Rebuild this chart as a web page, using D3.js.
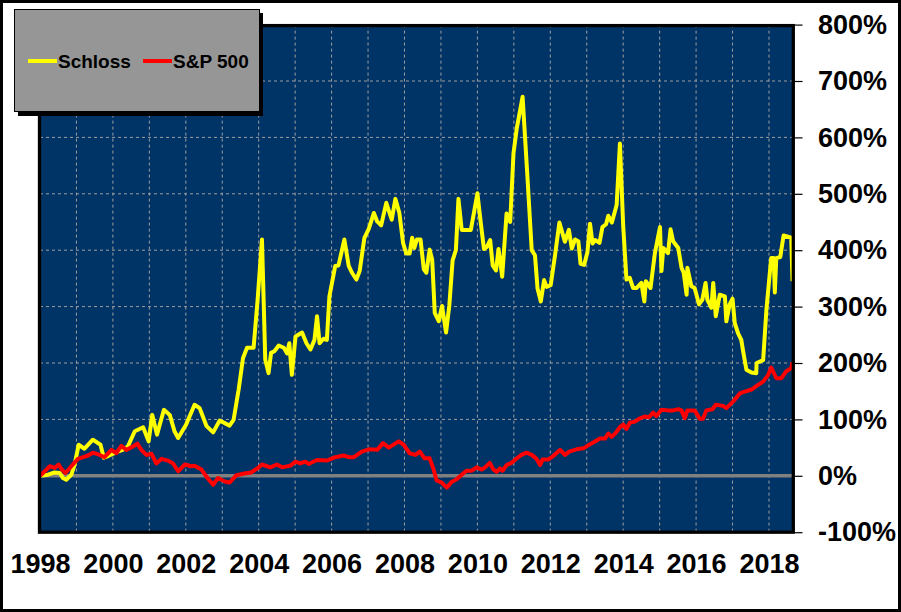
<!DOCTYPE html>
<html>
<head>
<meta charset="utf-8">
<script src="https://cdn.jsdelivr.net/npm/d3@7"></script>
<style>
  html, body { margin: 0; padding: 0; background: #fff; }
  svg { display: block; font-family: "Liberation Sans", Arial, sans-serif; }
</style>
</head>
<body>
<svg id="chart" width="901" height="612"></svg>
<script>
// ---- data ----
const seriesNames = ["Schloss", "S&P 500"];
const yTickValues = [-100, 0, 100, 200, 300, 400, 500, 600, 700, 800];
const xTickYears = [1998, 2000, 2002, 2004, 2006, 2008, 2010, 2012, 2014, 2016, 2018];

const schlossDates = [
  1998.00, 1998.22, 1998.40, 1998.54, 1998.63, 1998.72, 1998.86, 1998.95, 1999.06, 1999.22,
  1999.45, 1999.66, 1999.75, 1999.87, 2000.10, 2000.30, 2000.41, 2000.60, 2000.83, 2000.98,
  2001.08, 2001.21, 2001.40, 2001.56, 2001.69, 2001.79, 2002.01, 2002.24, 2002.38, 2002.57,
  2002.75, 2002.93, 2003.20, 2003.31, 2003.45, 2003.57, 2003.68, 2003.86, 2003.97, 2004.09,
  2004.18, 2004.27, 2004.34, 2004.43, 2004.55, 2004.69, 2004.78, 2004.84, 2004.91, 2005.01,
  2005.19, 2005.31, 2005.42, 2005.53, 2005.60, 2005.67, 2005.78, 2005.87, 2005.94, 2006.10,
  2006.19, 2006.35, 2006.47, 2006.56, 2006.68, 2006.77, 2006.90, 2007.02, 2007.16, 2007.25,
  2007.36, 2007.50, 2007.65, 2007.75, 2007.86, 2007.96, 2008.05, 2008.14, 2008.21, 2008.27,
  2008.34, 2008.44, 2008.53, 2008.60, 2008.69, 2008.76, 2008.83, 2008.94, 2009.03, 2009.14,
  2009.23, 2009.32, 2009.41, 2009.48, 2009.57, 2009.82, 2009.91, 2010.00, 2010.09, 2010.18,
  2010.26, 2010.35, 2010.42, 2010.51, 2010.58, 2010.68, 2010.80, 2010.90, 2010.99, 2011.08,
  2011.24, 2011.37, 2011.49, 2011.58, 2011.65, 2011.74, 2011.83, 2011.90, 2012.01, 2012.13,
  2012.25, 2012.40, 2012.51, 2012.59, 2012.68, 2012.77, 2012.83, 2012.93, 2013.02, 2013.09,
  2013.16, 2013.23, 2013.35, 2013.43, 2013.53, 2013.59, 2013.69, 2013.82, 2013.91, 2014.00,
  2014.09, 2014.18, 2014.27, 2014.37, 2014.50, 2014.58, 2014.62, 2014.75, 2014.87, 2015.01,
  2015.05, 2015.10, 2015.23, 2015.30, 2015.37, 2015.51, 2015.60, 2015.66, 2015.74, 2015.76,
  2015.87, 2015.96, 2016.08, 2016.17, 2016.26, 2016.31, 2016.42, 2016.47, 2016.54, 2016.65,
  2016.79, 2016.83, 2016.92, 2017.00, 2017.06, 2017.15, 2017.24, 2017.29, 2017.38, 2017.52,
  2017.65, 2017.66, 2017.84, 2017.93, 2018.06, 2018.13, 2018.16, 2018.20, 2018.31, 2018.40,
  2018.61, 2018.645
];
const schlossValues = [
  0, 2, 6, 5, -4, -7, 2, 20, 55, 48,
  64, 55, 32, 35, 42, 47, 52, 79, 86, 61,
  108, 73, 117, 108, 79, 67, 91, 126, 120, 88,
  77, 98, 89, 99, 153, 209, 227, 227, 312, 419,
  206, 182, 218, 221, 231, 227, 217, 235, 179, 247,
  254, 235, 224, 241, 283, 235, 243, 241, 318, 372,
  373, 419, 372, 360, 348, 363, 422, 438, 466, 451,
  444, 484, 454, 491, 466, 413, 394, 394, 422, 404,
  419, 419, 366, 360, 401, 383, 289, 274, 301, 254,
  302, 382, 400, 491, 436, 436, 468, 501, 450, 402,
  406, 418, 373, 364, 402, 353, 465, 450, 572, 616,
  672, 533, 400, 391, 332, 309, 347, 335, 338, 391,
  449, 415, 436, 403, 419, 416, 376, 374, 397, 447,
  412, 418, 413, 441, 446, 461, 449, 480, 589, 443,
  348, 351, 333, 333, 342, 309, 345, 333, 395, 441,
  363, 404, 395, 437, 416, 404, 369, 360, 321, 369,
  336, 333, 304, 312, 342, 312, 298, 342, 283, 321,
  318, 274, 304, 314, 271, 253, 241, 221, 188, 183,
  182, 200, 205, 295, 386, 386, 325, 386, 388, 426,
  422, 345
];

const spDates = [
  1998.00, 1998.13, 1998.27, 1998.40, 1998.51, 1998.60, 1998.70, 1998.86, 1999.04, 1999.23,
  1999.32, 1999.45, 1999.64, 1999.77, 1999.96, 2000.09, 2000.23, 2000.37, 2000.55, 2000.67,
  2000.78, 2000.92, 2001.06, 2001.19, 2001.33, 2001.51, 2001.65, 2001.79, 2001.97, 2002.15,
  2002.24, 2002.43, 2002.56, 2002.75, 2002.88, 2003.07, 2003.20, 2003.39, 2003.61, 2003.80,
  2003.98, 2004.09, 2004.32, 2004.50, 2004.64, 2004.87, 2005.01, 2005.14, 2005.28, 2005.37,
  2005.60, 2005.87, 2006.10, 2006.33, 2006.47, 2006.61, 2006.83, 2007.02, 2007.25, 2007.41,
  2007.57, 2007.84, 2007.98, 2008.14, 2008.30, 2008.42, 2008.55, 2008.69, 2008.79, 2008.88,
  2009.02, 2009.16, 2009.29, 2009.43, 2009.57, 2009.70, 2009.84, 2009.98, 2010.12, 2010.21,
  2010.34, 2010.44, 2010.53, 2010.62, 2010.69, 2010.80, 2010.94, 2011.08, 2011.21, 2011.35,
  2011.49, 2011.61, 2011.72, 2011.79, 2011.95, 2012.08, 2012.27, 2012.40, 2012.52, 2012.72,
  2012.91, 2013.04, 2013.18, 2013.36, 2013.50, 2013.59, 2013.68, 2013.78, 2013.92, 2014.00,
  2014.09, 2014.18, 2014.32, 2014.46, 2014.59, 2014.71, 2014.82, 2014.91, 2015.05, 2015.23,
  2015.37, 2015.51, 2015.60, 2015.69, 2015.76, 2015.96, 2016.10, 2016.19, 2016.28, 2016.45,
  2016.54, 2016.74, 2016.83, 2017.02, 2017.20, 2017.38, 2017.52, 2017.65, 2017.84, 2017.97,
  2018.06, 2018.20, 2018.34, 2018.47, 2018.61, 2018.645
];
const spValues = [
  0, 8, 17, 14, 20, 11, 5, 17, 30, 34,
  36, 41, 37, 33, 46, 40, 53, 46, 52, 57,
  46, 37, 39, 22, 30, 27, 22, 8, 20, 17,
  18, 11, -1, -16, -4, -10, -12, 1, 4, 6,
  14, 20, 15, 20, 15, 18, 25, 22, 25, 21,
  28, 27, 33, 36, 33, 33, 43, 47, 46, 58,
  50, 61, 55, 40, 37, 43, 31, 31, 13, -8,
  -12, -21, -11, -6, 2, 9, 9, 15, 11, 15,
  23, 11, 7, 13, 9, 19, 23, 31, 37, 41,
  37, 31, 19, 29, 29, 35, 46, 37, 43, 47,
  49, 54, 59, 66, 66, 75, 69, 75, 87, 91,
  83, 94, 96, 102, 105, 104, 112, 106, 117, 116,
  116, 118, 116, 102, 116, 116, 101, 101, 116, 118,
  126, 124, 120, 132, 146, 150, 153, 159, 167, 178,
  192, 173, 173, 185, 191, 201
];

// ---- layout ----
const svg = d3.select("#chart");
const W = 901, H = 612;
const plot = { left: 40, right: 792.5, top: 24.6, bottom: 532.2 };

const x = d3.scaleLinear().domain([1998, 2018.645]).range([plot.left, plot.right]);
const y = d3.scaleLinear().domain([-100, 800]).range([plot.bottom, plot.top]);

// outer frame
svg.append("rect").attr("x", 0).attr("y", 0).attr("width", W).attr("height", H).attr("fill", "#fff");
svg.append("rect").attr("x", 1.5).attr("y", 1.5).attr("width", W - 3).attr("height", H - 3)
  .attr("fill", "none").attr("stroke", "#000").attr("stroke-width", 3);

// plot background
svg.append("rect").attr("x", plot.left).attr("y", plot.top)
  .attr("width", plot.right - plot.left).attr("height", plot.bottom - plot.top)
  .attr("fill", "#003366");

const clip = svg.append("defs").append("clipPath").attr("id", "plotclip");
clip.append("rect").attr("x", plot.left).attr("y", plot.top)
  .attr("width", plot.right - plot.left).attr("height", plot.bottom - plot.top);

// grid
const grid = svg.append("g");
const yearGrid = d3.range(1999, 2019);
grid.selectAll("line.vg").data(yearGrid).enter().append("line")
  .attr("x1", d => x(d)).attr("x2", d => x(d))
  .attr("y1", plot.top).attr("y2", plot.bottom)
  .attr("stroke", "#a0a0a0").attr("stroke-width", 1).attr("stroke-dasharray", "3,3");
grid.selectAll("line.hg").data(yTickValues.filter(v => v > -100 && v < 800 && v !== 0)).enter().append("line")
  .attr("x1", plot.left).attr("x2", plot.right)
  .attr("y1", d => y(d)).attr("y2", d => y(d))
  .attr("stroke", "#a0a0a0").attr("stroke-width", 1).attr("stroke-dasharray", "3,3");

// zero line
svg.append("line").attr("x1", plot.left).attr("x2", plot.right)
  .attr("y1", y(0)).attr("y2", y(0))
  .attr("stroke", "#808080").attr("stroke-width", 3.5);

// series
const line = d3.line().x(d => x(d[0])).y(d => y(d[1]));
const schloss = schlossDates.map((d, i) => [d, schlossValues[i]]);
const sp = spDates.map((d, i) => [d, spValues[i]]);
const lines = svg.append("g").attr("clip-path", "url(#plotclip)");
lines.append("path").datum(schloss).attr("d", line)
  .attr("fill", "none").attr("stroke", "#ffff00").attr("stroke-width", 4)
  .attr("stroke-linejoin", "round");
lines.append("path").datum(sp).attr("d", line)
  .attr("fill", "none").attr("stroke", "#ff0000").attr("stroke-width", 4)
  .attr("stroke-linejoin", "round");

// plot border
svg.append("rect").attr("x", plot.left - 0.5).attr("y", plot.top + 1)
  .attr("width", plot.right - plot.left + 1.3).attr("height", plot.bottom - plot.top - 1)
  .attr("fill", "none").attr("stroke", "#000").attr("stroke-width", 3.3);

// right axis
const yAxis = d3.axisRight(y).tickValues(yTickValues).tickSize(8).tickPadding(15)
  .tickFormat(d => d + "%");
const ya = svg.append("g").attr("transform", `translate(${plot.right + 2},0)`).call(yAxis);
ya.select(".domain").remove();
ya.selectAll(".tick line").attr("stroke", "#000").attr("stroke-width", 1.2);
ya.selectAll(".tick text").attr("font-size", 27).attr("font-weight", "bold")
  .attr("fill", "#000").attr("font-family", "'Liberation Sans', Arial, sans-serif")
  .attr("x", 818 - plot.right - 2);

// bottom axis labels
const xAxis = d3.axisBottom(x).tickValues(xTickYears).tickSize(0).tickPadding(0)
  .tickFormat(d3.format("d"));
const xa = svg.append("g").attr("transform", `translate(0,${plot.bottom})`).call(xAxis);
xa.select(".domain").remove();
xa.selectAll(".tick text").attr("font-size", 27).attr("font-weight", "bold")
  .attr("fill", "#000").attr("font-family", "'Liberation Sans', Arial, sans-serif")
  .attr("dy", null).attr("y", 41);

// legend
const lg = svg.append("g");
lg.append("rect").attr("x", 18).attr("y", 13).attr("width", 245).attr("height", 103).attr("fill", "#000");
lg.append("rect").attr("x", 14.5).attr("y", 9.5).attr("width", 245).attr("height", 102)
  .attr("fill", "#969696").attr("stroke", "#000").attr("stroke-width", 1);
const legendColors = ["#ffff00", "#ff0000"];
const legendX = [28, 143];
seriesNames.forEach((n, i) => {
  lg.append("line").attr("x1", legendX[i]).attr("x2", legendX[i] + 29)
    .attr("y1", 61).attr("y2", 61).attr("stroke", legendColors[i]).attr("stroke-width", 4);
  lg.append("text").attr("x", legendX[i] + 30).attr("y", 68)
    .attr("font-size", 19).attr("font-weight", "bold").attr("fill", "#000")
    .text(n);
});
</script>
</body>
</html>
